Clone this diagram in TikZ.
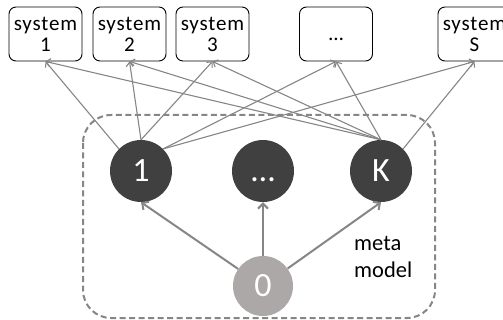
\documentclass[tikz,border=0pt]{standalone}
\usepackage{fontspec}
\setmainfont{Carlito}
\newfontfamily\boxfont[LetterSpace=4]{Carlito}
\usetikzlibrary{arrows.meta}
\definecolor{linegray}{HTML}{868686}
\definecolor{darknode}{HTML}{404040}
\definecolor{lightnode}{HTML}{ABA8A7}
\begin{document}
\begin{tikzpicture}[x=1pt,y=-1pt,
  sysbox/.style={draw=black, fill=white, line width=0.9pt, rounded corners=7pt,
    minimum width=73pt, minimum height=54pt, align=center, inner sep=0pt,
    font=\boxfont\fontsize{21}{21}\selectfont},
  latent/.style={circle, fill=darknode, minimum size=62pt, inner sep=0pt,
    text=white, font=\fontsize{34}{34}\selectfont},
  conn/.style={draw=linegray, line width=1.1pt, -{Straight Barb[length=4pt,width=8pt]}},
  metaarrow/.style={draw=linegray, line width=2pt, -{Straight Barb[length=5pt,width=10pt]}},
  group/.style={draw=linegray, line width=2pt, dash pattern=on 6pt off 3.5pt, rounded corners=28pt}]
\useasboundingbox (0,0) rectangle (503,320);
\clip (0,0) rectangle (503,320);
% meta model frame
\draw[group] (83,115) rectangle (435,318);
% system boxes
\node[sysbox] (b1) at (45.5,34) {system\\1};
\node[sysbox] (b2) at (129.5,34) {system\\2};
\node[sysbox] (b3) at (212.5,34) {system\\3};
\node[sysbox] (bd) at (336,34) {\vphantom{1}…};
\node[sysbox] (bS) at (474.5,34) {system\\S};
% latent nodes
\node[latent] (c1) at (141,171) {1};
\node[latent] (cd) at (263,171) {\vphantom{1}…};
\node[latent] (cK) at (381,171) {K};
\node[latent, fill=lightnode, minimum size=60pt] (c0) at (263,286) {0};
\node[anchor=west, align=left, inner sep=0pt, font=\fontsize{22.5}{27}\selectfont] (mm) at (354,257) {meta\\model};
% connectors to systems
\draw[conn] (c1.north west) -- (b1.south);
\draw[conn] (c1.north) -- (b2.south);
\draw[conn] (c1.north) -- (b3.south);
\draw[conn] (c1.north east) -- (bd.south);
\draw[conn] (c1.north east) -- (bS.south);
\draw[conn] (cK.north) -- (b1.south);
\draw[conn] (cK.north) -- (b2.south);
\draw[conn] (cK.north) -- (b3.south);
\draw[conn] (cK.north) -- (bd.south);
\draw[conn] (cK.north east) -- (bS.south);
% meta model arrows
\draw[metaarrow] (c0) -- (c1.south);
\draw[metaarrow] (c0) -- (cd.south);
\draw[metaarrow] (c0) -- (cK.south);
\end{tikzpicture}
\end{document}
